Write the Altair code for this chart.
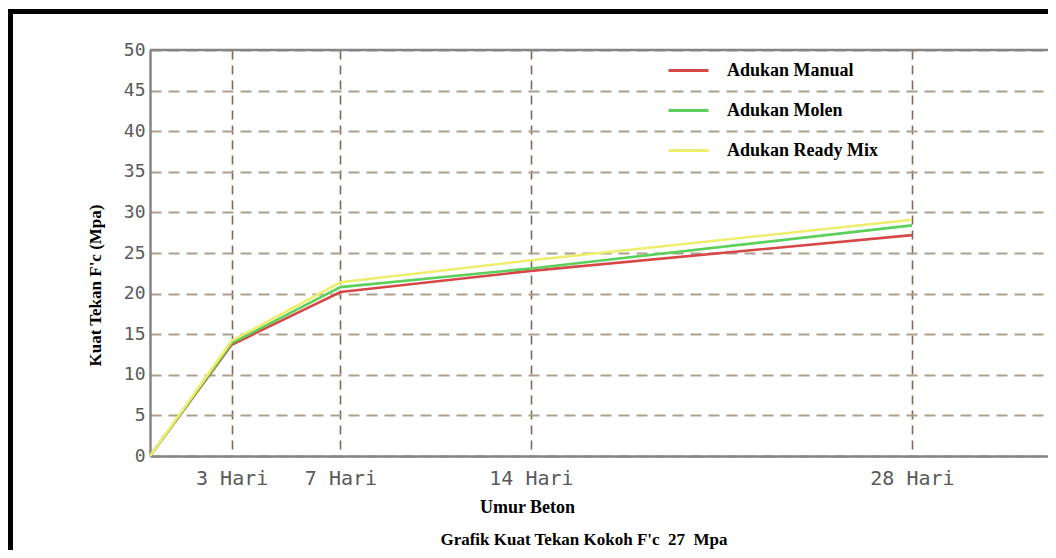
import altair as alt
import pandas as pd

# ---- data ----
days = [0, 3, 7, 14, 28]
manual = [0, 13.7, 20.2, 22.8, 27.2]
molen = [0, 13.9, 20.8, 23.1, 28.4]
ready_mix = [0, 14.2, 21.4, 24.1, 29.1]
series = ["Adukan Manual", "Adukan Molen", "Adukan Ready Mix"]
colors = ["#d64848", "#5ccf5c", "#eeee6e"]
x_ticks = [3, 7, 14, 28]
y_ticks = [0, 5, 10, 15, 20, 25, 30, 35, 40, 45, 50]
x_max = 33.0
y_max = 50

rows = []
for name, vals in zip(series, [manual, molen, ready_mix]):
    for d, v in zip(days, vals):
        rows.append({"Umur": d, "Kuat": v, "Seri": name})
df = pd.DataFrame(rows)

x_scale = alt.Scale(domain=[0, x_max], nice=False, zero=False)
y_scale = alt.Scale(domain=[0, y_max], nice=False)

W, H = 898, 406

lines = alt.Chart(df).mark_line(strokeWidth=2.6).encode(
    x=alt.X(
        "Umur:Q",
        scale=x_scale,
        axis=alt.Axis(
            values=x_ticks,
            labelExpr="datum.value + ' Hari'",
            title="Umur Beton",
            titleFont="Liberation Serif",
            titleFontWeight="bold",
            titleFontSize=18,
            titleColor="#000000",
            titleX=377,
            titleY=51,
            titleAlign="center",
            titleBaseline="middle",
            labelFont="DejaVu Sans Mono",
            labelFontSize=20,
            labelColor="#5a5a5a",
            labelPadding=12,
            ticks=False,
            domainColor="#858585",
            domainWidth=2.5,
            grid=True,
            gridColor="#7d6a55",
            gridDash=[9, 6],
            gridWidth=1.6,
        ),
    ),
    y=alt.Y(
        "Kuat:Q",
        scale=y_scale,
        axis=alt.Axis(
            values=y_ticks,
            title="Kuat Tekan F'c (Mpa)",
            titleFont="Liberation Serif",
            titleFontWeight="bold",
            titleFontSize=17,
            titleColor="#000000",
            titleX=-55,
            titleY=235,
            titleAngle=270,
            titleAlign="center",
            titleBaseline="middle",
            labelFont="DejaVu Sans Mono",
            labelFontSize=18,
            labelColor="#5a5a5a",
            labelPadding=5,
            ticks=False,
            domainColor="#858585",
            domainWidth=2.5,
            grid=True,
            gridColor="#ad9f8e",
            gridDash=[11, 7],
            gridWidth=2,
        ),
    ),
    color=alt.Color(
        "Seri:N",
        scale=alt.Scale(domain=series, range=colors),
        legend=alt.Legend(
            title=None,
            orient="none",
            legendX=517,
            legendY=-1,
            symbolType="stroke",
            symbolSize=1600,
            symbolStrokeWidth=3,
            labelFont="Liberation Serif",
            labelFontWeight="bold",
            labelFontSize=18,
            labelColor="#000000",
            labelOffset=17,
            rowPadding=9,
            padding=0,
        ),
    ),
)

top_border = alt.Chart(pd.DataFrame({"a": [0]})).mark_rule(
    color="#858585", strokeWidth=2.5
).encode(x=alt.value(0), x2=alt.value(W), y=alt.value(0))

frame_left = alt.Chart(pd.DataFrame({"a": [0]})).mark_rule(
    color="#000000", strokeWidth=5
).encode(x=alt.value(-139.5), y=alt.value(-41), y2=alt.value(H + 94))

frame_top = alt.Chart(pd.DataFrame({"a": [0]})).mark_rule(
    color="#000000", strokeWidth=5
).encode(x=alt.value(-142), x2=alt.value(W), y=alt.value(-38.5))

chart = (
    alt.layer(lines, top_border, frame_left, frame_top)
    .properties(
        width=W,
        height=H,
        autosize=alt.AutoSizeParams(type="none"),
        padding={"left": 142, "top": 42, "right": 0, "bottom": 94},
        title=alt.TitleParams(
            "Grafik Kuat Tekan Kokoh F'c\u00a0 27\u00a0 Mpa",
            orient="bottom",
            font="Liberation Serif",
            fontWeight="bold",
            fontSize=17,
            color="#000000",
            offset=-21,
            dx=-15,
        ),
    )
    .configure_view(stroke=None)
    .configure(background="#ffffff")
)

chart.save("out.html", embed_options={"renderer": "svg", "actions": False})
